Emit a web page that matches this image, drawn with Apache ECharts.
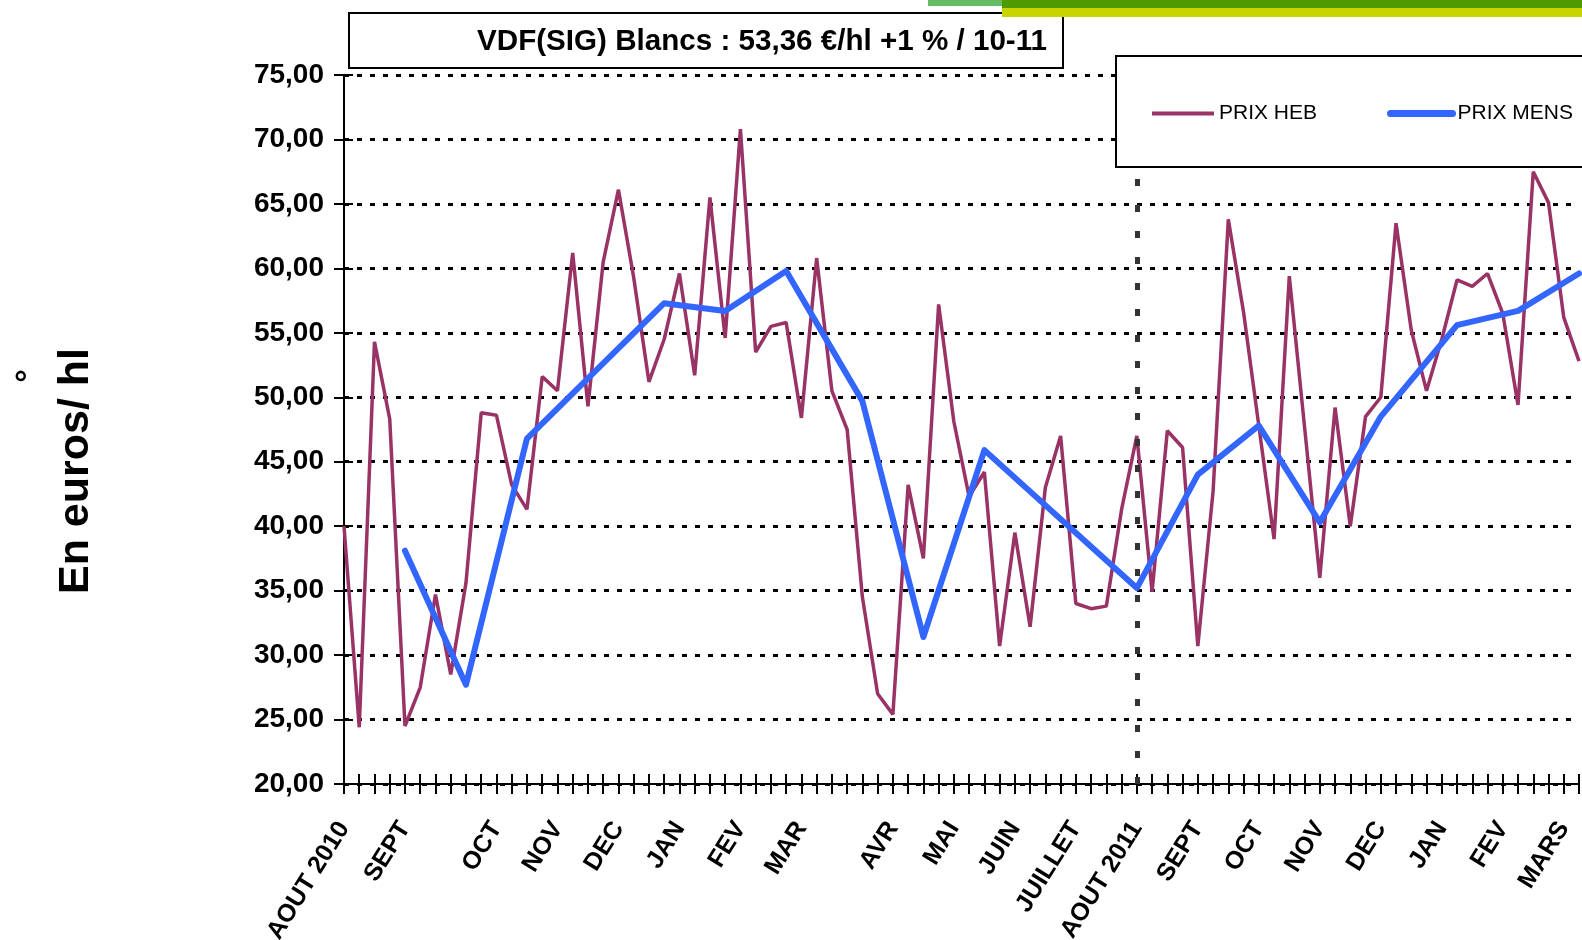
<!DOCTYPE html>
<html>
<head>
<meta charset="utf-8">
<title>VDF(SIG) Blancs</title>
<script src="https://cdn.jsdelivr.net/npm/echarts@6/dist/echarts.min.js"></script>
<style>
  html, body { margin: 0; padding: 0; background: #fff; }
  #main { width: 1582px; height: 940px; }
</style>
</head>
<body>
<div id="main"></div>
<script>
// libellés des mois et semaine où ils tombent
var moisLabels = ['AOUT 2010', 'SEPT', 'OCT', 'NOV', 'DEC', 'JAN', 'FEV', 'MAR', 'AVR', 'MAI', 'JUIN', 'JUILLET',
    'AOUT 2011', 'SEPT', 'OCT', 'NOV', 'DEC', 'JAN', 'FEV', 'MARS'];
var moisSemaine = [0, 4, 10, 14, 18, 22, 26, 30, 36, 40, 44, 48, 52, 56, 60, 64, 68, 72, 76, 80];

// prix hebdo (une valeur par semaine)
var prixHeb = [40.0, 24.4, 54.3, 48.3, 24.5, 27.5, 34.7, 28.5, 35.6, 48.8,
    48.6, 43.2, 41.3, 51.6, 50.5, 61.2, 49.3, 60.5, 66.1, 59.3,
    51.2, 54.5, 59.6, 51.7, 65.5, 54.6, 70.8, 53.5, 55.5, 55.8,
    48.4, 60.8, 50.5, 47.5, 34.5, 27.0, 25.4, 43.2, 37.5, 57.2,
    48.1, 42.3, 44.2, 30.7, 39.5, 32.2, 43.0, 47.0, 34.0, 33.6,
    33.8, 41.3, 47.0, 34.9, 47.4, 46.1, 30.7, 42.7, 63.8, 56.6,
    47.8, 39.0, 59.4, 47.7, 36.0, 49.2, 40.0, 48.5, 50.0, 63.5,
    55.2, 50.5, 54.5, 59.1, 58.6, 59.6, 56.5, 49.4, 67.5, 65.1,
    56.2, 52.8];

// prix mensuel et semaine correspondante
var prixMens = [38.1, 27.7, 46.8, 57.3, 56.7, 59.8, 49.7, 31.4, 45.9, 35.2, 44.0, 47.8, 40.3, 48.5, 55.6, 56.7, 59.6];
var mensSemaine = [4, 8, 12, 21, 25, 29, 34, 38, 42, 52, 56, 60, 64, 68, 73, 77, 81];

var semaineRupture = 52; // AOUT 2011

var police = '"Liberation Sans", Arial, sans-serif';

var categories = prixHeb.map(function () { return ''; });
moisSemaine.forEach(function (s, i) { categories[s] = moisLabels[i]; });

var mensData = prixHeb.map(function () { return null; });
mensSemaine.forEach(function (s, i) { mensData[s] = prixMens[i]; });

var myChart = echarts.init(document.getElementById('main'), null, { renderer: 'canvas' });

// style commun des deux légendes
function legende(nom, x, largeur) {
    return {
        left: x,
        top: 103,
        z: 60,
        padding: 0,
        itemWidth: 62,
        itemHeight: 14,
        textStyle: { fontSize: 21, color: '#000', fontFamily: police },
        data: [{ name: nom, itemStyle: { opacity: 0 }, lineStyle: { width: largeur } }]
    };
}

var option = {
    backgroundColor: '#fff',
    animation: false,
    textStyle: { fontFamily: police },
    title: {
        text: 'VDF(SIG) Blancs : 53,36 €/hl +1 % / 10-11',
        right: 535,
        top: 27,
        padding: 0,
        textStyle: { fontSize: 29.6, fontWeight: 'bold', color: '#000', fontFamily: police }
    },
    graphic: [
        // bandeaux verts en haut
        { type: 'rect', left: 928, top: 0, shape: { width: 80, height: 6 }, style: { fill: '#66bb66' } },
        { type: 'rect', left: 1002, top: 0, shape: { width: 580, height: 8 }, style: { fill: '#4f9a00' } },
        { type: 'rect', left: 1002, top: 8, shape: { width: 580, height: 9 }, style: { fill: '#c8d400' } },
        // cadre du titre
        { type: 'rect', left: 348, top: 12, z: -1, shape: { width: 714, height: 55 },
          style: { fill: '#fff', stroke: '#000', lineWidth: 2 } },
        // cadre de la légende (déborde à droite)
        { type: 'rect', x: 1116, y: 56, z: 50, shape: { width: 600, height: 111 },
          style: { fill: '#fff', stroke: '#000', lineWidth: 2 } },
        { type: 'text', x: 76, y: 471, rotation: Math.PI / 2,
          style: { text: 'En euros/ hl', font: 'bold 43px ' + police, fill: '#000',
                   textAlign: 'center', textVerticalAlign: 'middle' } },
        { type: 'text', x: 30, y: 376, rotation: Math.PI / 2,
          style: { text: '°', font: 'bold 34px ' + police, fill: '#000',
                   textAlign: 'center', textVerticalAlign: 'middle' } }
    ],
    legend: [legende('PRIX HEB', 1150, 4), legende('PRIX MENS', 1387, 7)],
    grid: { left: 344, right: 3, top: 75, bottom: 156, outerBoundsMode: 'none' },
    xAxis: [{
        type: 'category',
        boundaryGap: false,
        data: categories,
        axisLine: { lineStyle: { color: '#000', width: 2 } },
        axisTick: { interval: 0, length: 10, lineStyle: { color: '#000', width: 2 } },
        axisLabel: {
            interval: 0, rotate: 58, margin: 40,
            fontSize: 25, fontWeight: 'bold', color: '#000', fontFamily: police
        },
        splitLine: { show: false }
    }, {
        // petits traits au-dessus de l'axe
        type: 'category',
        position: 'bottom',
        boundaryGap: false,
        data: categories,
        axisLine: { show: false },
        axisTick: { interval: 0, inside: true, length: 10, lineStyle: { color: '#000', width: 2 } },
        axisLabel: { show: false },
        splitLine: { show: false }
    }],
    yAxis: [{
        type: 'value',
        min: 20,
        max: 75,
        interval: 5,
        axisLine: { show: true, lineStyle: { color: '#000', width: 2 } },
        axisTick: { show: true, length: 10, lineStyle: { color: '#000', width: 2 } },
        axisLabel: {
            margin: 20, fontSize: 28, fontWeight: 'bold', color: '#000', fontFamily: police,
            formatter: function (v) { return v.toFixed(2).replace('.', ','); }
        },
        splitLine: { lineStyle: { color: '#000', width: 3, type: [5, 8] } }
    }, {
        // traits côté intérieur
        type: 'value',
        position: 'left',
        min: 20,
        max: 75,
        interval: 5,
        axisLine: { show: false },
        axisTick: { show: true, inside: true, length: 9, lineStyle: { color: '#000', width: 2 } },
        axisLabel: { show: false },
        splitLine: { show: false }
    }],
    series: [{
        name: 'PRIX HEB',
        type: 'line',
        data: prixHeb,
        symbol: 'none',
        lineStyle: { color: '#993366', width: 3.5 },
        itemStyle: { color: '#993366' },
        markLine: {
            silent: true,
            symbol: 'none',
            label: { show: false },
            lineStyle: { color: '#333', width: 5, type: [7, 19] },
            data: [{ xAxis: semaineRupture }]
        }
    }, {
        name: 'PRIX MENS',
        type: 'line',
        data: mensData,
        connectNulls: true,
        symbol: 'none',
        lineStyle: { color: '#3366ff', width: 6, cap: 'round', join: 'round' },
        itemStyle: { color: '#3366ff' }
    }]
};
myChart.setOption(option);
</script>
</body>
</html>
